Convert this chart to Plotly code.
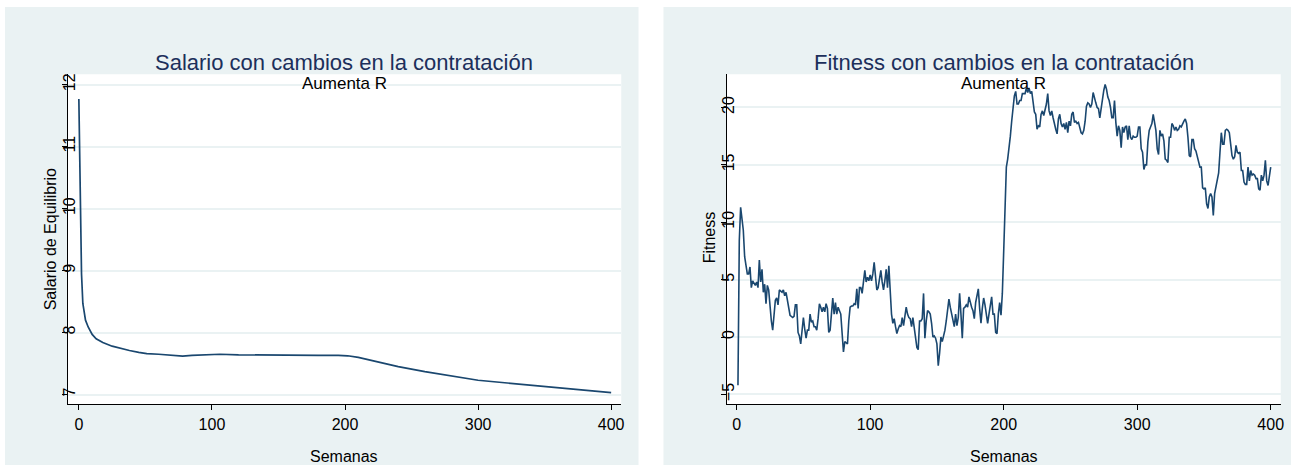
import plotly.graph_objects as go

# ---------------- data ----------------
weeks_sal = [0, 1, 2, 3, 5, 7, 10, 13, 18, 25, 32, 38, 45, 51, 60, 70, 78, 85, 95, 106,
             120, 135, 150, 165, 180, 195, 202, 210, 220, 230, 240, 260, 280, 300, 320,
             340, 360, 380, 400]
salario = [11.77, 10.0, 8.95, 8.47, 8.2, 8.09, 7.97, 7.90, 7.84, 7.78, 7.74, 7.71, 7.68,
           7.66, 7.65, 7.64, 7.62, 7.63, 7.64, 7.65, 7.64, 7.635, 7.63, 7.63, 7.63, 7.63,
           7.625, 7.6, 7.55, 7.5, 7.45, 7.37, 7.30, 7.23, 7.19, 7.15, 7.11, 7.07, 7.03]

weeks_fit_early = [1, 2, 3, 5, 6, 8, 9, 10, 11, 12,
                   14, 15, 16, 17, 18, 19, 20, 21, 22, 23, 24, 25, 26, 27, 28, 29, 30, 31, 32,
                   34, 35, 36, 37, 38, 39, 40,
                   42, 43, 44, 45, 46, 47, 48, 49, 50, 51, 52, 53, 54, 55, 56, 57, 58, 59, 60,
                   61, 62, 63, 64, 65, 66, 67, 68, 69, 70, 71, 72, 73, 74, 75, 76,
                   78, 79, 80, 81, 82, 83, 84, 85, 86, 87, 88, 89]
fitness_early = [-4.2, 8.4, 11.3, 9.3, 7.0, 5.5, 5.5, 6.1, 4.3, 4.9,
                 4.5, 4.8, 4.3, 6.7, 4.8, 5.9, 3.9, 4.6, 2.9, 4.5, 4.1, 2.6, 1.4, 0.6, 2.3, 3.2, 3.4, 2.8, 4.1,
                 3.9, 4.1, 3.6, 3.9, 3.2, 2.6, 1.9,
                 1.7, 1.8, 2.8, 2.8, 0.4, 0.1, -0.6, 0.3, 1.7, 0.7, -0.1, 0.6, 0.6, 2.0, 1.3, 1.4, 0.9, 0.9, 0.6,
                 1.6, 2.9, 2.6, 2.2, 2.6, 2.2, 2.9, 2.5, 0.4, 0.6, 2.0, 3.4, 2.0, 3.0, 2.0, 2.6,
                 2.0, 0.0, -1.3, -0.4, -0.5, -0.6, 1.4, 2.6, 2.7, 2.7, 2.9, 2.8]

weeks_fit_late = list(range(90, 401))
fitness_late = [
    4.2, 2.5, 4.3, 4.3, 3.8, 4.9, 5.8, 4.8, 5.2, 4.9,          # 90
    5.4, 4.9, 5.5, 6.5, 4.9, 4.1, 4.3, 4.9, 5.8, 4.8,          # 100
    4.1, 4.9, 5.9, 4.3, 6.2, 4.1, 2.0, 1.2, 1.6, 0.9,          # 110
    0.3, 0.7, 1.0, 0.9, 1.7, 1.0, 1.7, 2.6, 2.0, 1.7,          # 120
    1.6, 0.9, 1.7, 0.9, -0.3, -0.9, -1.1, 1.4, 1.4, 1.6,       # 130
    3.8, -0.1, 1.4, 2.3, 2.2, 2.0, 1.2, 0.0, 0.1, -0.1,        # 140
    -0.6, -2.5, -1.4, 0.0, -0.4, 0.0, 0.6, 1.4, 2.3, 3.3,      # 150
    2.6, 2.0, 1.7, 0.9, 2.0, 1.0, 1.7, 3.8, 2.0, -0.1,         # 160
    2.5, 2.6, 2.8, 2.6, 3.5, 3.0, 2.6, 2.3, 1.6, 3.0,          # 170
    3.8, 4.2, 2.5, 1.2, 2.5, 3.4, 2.8, 1.7, 1.2, 2.0,          # 180
    2.8, 3.5, 2.0, 2.0, 0.4, 0.3, 2.0, 3.0, 1.9, 3.8,          # 190
    7.4, 11.9, 14.8, 15.5, 16.4, 17.5, 18.8, 20.0, 21.0, 21.4, # 200
    20.3, 20.3, 20.6, 20.6, 21.2, 21.2, 21.2, 21.7, 21.3, 21.7,  # 210
    21.2, 21.4, 20.6, 19.6, 19.4, 18.1, 18.4, 18.3, 19.4, 19.7,  # 220
    19.3, 19.7, 20.3, 21.2, 19.7, 19.3, 19.7, 19.1, 18.4, 18.1,  # 230
    17.7, 19.0, 19.4, 18.6, 18.3, 18.6, 18.1, 18.7, 17.8, 18.8,  # 240
    18.4, 19.4, 19.6, 18.7, 18.8, 18.6, 18.7, 18.3, 17.8, 17.7,  # 250
    18.0, 18.8, 20.1, 20.4, 20.3, 20.0, 20.3, 21.3, 20.7, 20.4,  # 260
    20.0, 19.9, 19.1, 20.0, 20.6, 21.5, 22.0, 21.6, 20.9, 20.6,  # 270
    20.0, 19.1, 19.1, 20.6, 18.7, 17.5, 18.4, 18.0, 16.5, 18.3,  # 280
    17.8, 18.3, 18.4, 17.2, 18.4, 17.4, 17.2, 17.5, 17.4, 17.4,  # 290
    17.5, 18.3, 18.3, 16.4, 16.1, 14.6, 15.0, 15.0, 17.0, 18.0,  # 300
    18.3, 18.6, 19.4, 18.8, 18.0, 16.4, 15.9, 18.0, 17.5, 17.7,  # 310
    17.1, 15.5, 15.4, 15.2, 17.4, 17.4, 18.6, 18.4, 18.0, 18.3,  # 320
    18.0, 18.1, 18.4, 18.3, 18.6, 18.8, 19.0, 18.6, 17.4, 15.8,  # 330
    15.7, 17.2, 17.2, 16.4, 16.2, 15.7, 15.2, 14.8, 14.8, 13.0,  # 340
    12.9, 13.0, 11.6, 11.2, 12.2, 12.5, 12.2, 10.6, 12.5, 13.2,  # 350
    13.6, 14.3, 16.1, 17.8, 16.8, 16.8, 18.0, 18.1, 18.0, 17.8,  # 360
    16.8, 15.8, 15.5, 15.7, 16.7, 16.1, 16.0, 16.1, 14.5, 14.5,  # 370
    13.5, 13.3, 13.3, 14.8, 13.6, 14.5, 14.1, 14.2, 14.1, 13.8,  # 380
    13.8, 12.9, 12.8, 14.1, 13.6, 14.1, 15.4, 13.6, 13.2, 14.2,  # 390
    14.8,                                                        # 400
]

weeks_fit = weeks_fit_early + weeks_fit_late
fitness = fitness_early + fitness_late

x_ticks = [0, 100, 200, 300, 400]
y_ticks_sal = [7, 8, 9, 10, 11, 12]
y_ticks_fit = [-5, 0, 5, 10, 15, 20]

titles = ["Salario con cambios en la contratación", "Fitness con cambios en la contratación"]
subtitle = "Aumenta R"
x_title = "Semanas"
y_titles = ["Salario de Equilibrio", "Fitness"]

# ---------------- styling / layout ----------------
W, H = 1298, 465
BG = "#EAF2F3"
LINE = "#1A476F"
TITLE_C = "#1C2F5B"
FONT = "Arial, Liberation Sans, sans-serif"


def px_x(p):
    return p / W


def px_y(p):
    return (H - p) / H


left_dom = [px_x(67.7), px_x(622.7)]
right_dom = [px_x(728.3), px_x(1283.7)]
y_dom = [px_y(404.3), px_y(73.3)]

fig = go.Figure()
fig.add_trace(go.Scatter(x=weeks_sal, y=salario, mode="lines",
                         line=dict(color=LINE, width=1.7), xaxis="x", yaxis="y",
                         showlegend=False, hoverinfo="skip"))
fig.add_trace(go.Scatter(x=weeks_fit, y=fitness, mode="lines",
                         line=dict(color=LINE, width=1.6), xaxis="x2", yaxis="y2",
                         showlegend=False, hoverinfo="skip"))

common_x = dict(tickvals=x_ticks, ticks="outside", ticklen=5, tickcolor="black",
                showline=True, linecolor="black", linewidth=1, showgrid=False,
                zeroline=False, tickfont=dict(family=FONT, size=16, color="black"),
                ticklabelstandoff=0)
common_y = dict(ticks="outside", ticklen=5, tickcolor="black", tickangle=-90,
                showline=True, linecolor="black", linewidth=1, showgrid=True,
                gridcolor=BG, gridwidth=2, zeroline=False,
                tickfont=dict(family=FONT, size=16, color="black"),
                ticklabelstandoff=-20)

fig.update_layout(
    width=W, height=H,
    margin=dict(l=0, r=0, t=0, b=0),
    paper_bgcolor="white", plot_bgcolor="white",
    xaxis=dict(domain=left_dom, range=[-8.5, 407.6], anchor="y", **common_x),
    yaxis=dict(domain=y_dom, range=[6.84, 12.17], anchor="x", tickvals=y_ticks_sal, **common_y),
    xaxis2=dict(domain=right_dom, range=[-7.5, 407.5], anchor="y2", **common_x),
    yaxis2=dict(domain=y_dom, range=[-5.87, 22.9], anchor="x2", tickvals=y_ticks_fit, **common_y),
    shapes=[
        dict(type="rect", xref="paper", yref="paper", x0=px_x(5), x1=px_x(640),
             y0=px_y(465), y1=px_y(6), fillcolor=BG, line=dict(width=0), layer="below"),
        dict(type="rect", xref="paper", yref="paper", x0=px_x(665), x1=px_x(1294),
             y0=px_y(465), y1=px_y(6), fillcolor=BG, line=dict(width=0), layer="below"),
        dict(type="rect", xref="paper", yref="paper", x0=left_dom[0], x1=left_dom[1],
             y0=y_dom[0], y1=y_dom[1], fillcolor="white", line=dict(width=0), layer="below"),
        dict(type="rect", xref="paper", yref="paper", x0=right_dom[0], x1=right_dom[1],
             y0=y_dom[0], y1=y_dom[1], fillcolor="white", line=dict(width=0), layer="below"),
    ],
)

annotations = []
for i, dom in enumerate([left_dom, right_dom]):
    cx = (dom[0] + dom[1]) / 2
    annotations.append(dict(text=titles[i], x=cx, y=px_y(61.5), xref="paper", yref="paper",
                            showarrow=False, xanchor="center", yanchor="middle",
                            font=dict(family=FONT, size=22, color=TITLE_C)))
    annotations.append(dict(text=subtitle, x=cx, y=px_y(83), xref="paper", yref="paper",
                            showarrow=False, xanchor="center", yanchor="middle",
                            font=dict(family=FONT, size=17, color="black")))
    annotations.append(dict(text=x_title, x=cx, y=px_y(456), xref="paper", yref="paper",
                            showarrow=False, xanchor="center", yanchor="middle",
                            font=dict(family=FONT, size=16, color="black")))
annotations.append(dict(text=y_titles[0], x=px_x(51), y=px_y(239), xref="paper", yref="paper",
                        showarrow=False, textangle=-90, xanchor="center", yanchor="middle",
                        font=dict(family=FONT, size=16, color="black")))
annotations.append(dict(text=y_titles[1], x=px_x(711.5), y=px_y(237), xref="paper", yref="paper",
                        showarrow=False, textangle=-90, xanchor="center", yanchor="middle",
                        font=dict(family=FONT, size=16, color="black")))
fig.update_layout(annotations=annotations)

fig.write_html("out.html", config={"displayModeBar": False},
               post_script="document.body.style.margin='0';document.body.style.overflow='hidden';")
